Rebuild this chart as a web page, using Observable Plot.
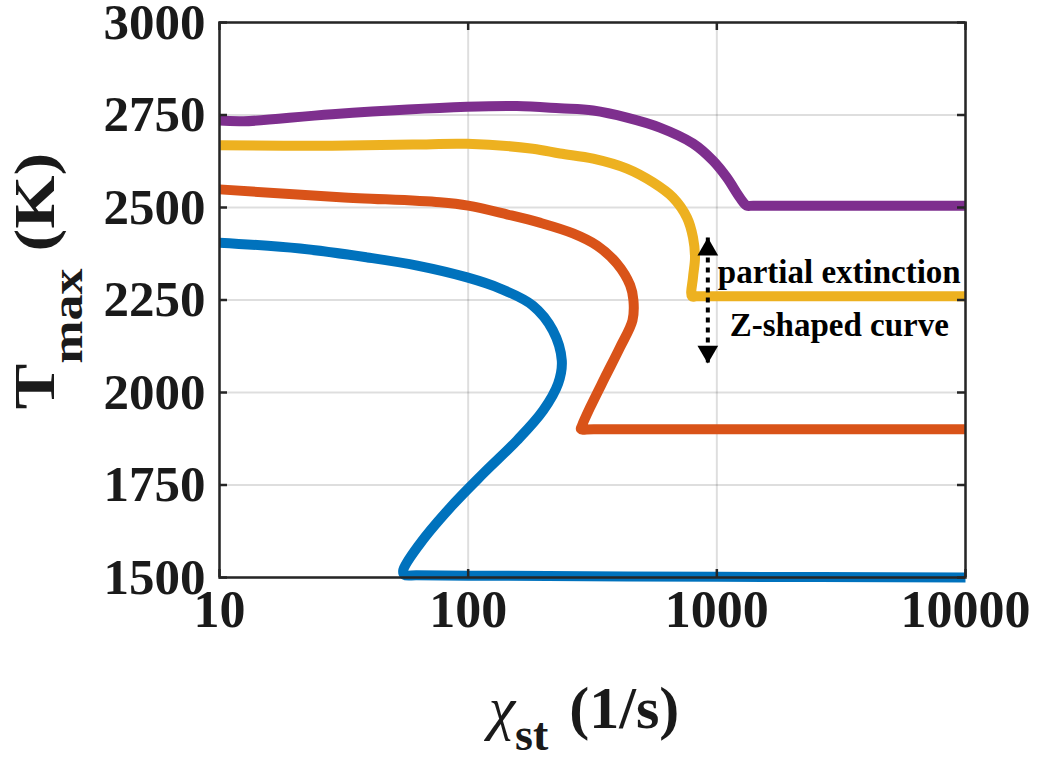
<!DOCTYPE html>
<html>
<head>
<meta charset="utf-8">
<script src="https://cdn.jsdelivr.net/npm/d3@7"></script>
<script src="https://cdn.jsdelivr.net/npm/@observablehq/plot@0.6"></script>
<style>
  html, body { margin: 0; padding: 0; background: #fff; }
</style>
</head>
<body>
<div id="chart"></div>
<script>
// ---- axis ticks ----
const xTicks = [10, 100, 1000, 10000];
const yTicks = [1500, 1750, 2000, 2250, 2500, 2750, 3000];

// ---- series (chi_st in 1/s, Tmax in K), ordered along each curve ----
const seriesNames = ["case 1", "case 2", "case 3", "case 4"];
const seriesColors = ["#0072BD", "#D95319", "#EDB120", "#7E2F8E"];

const blueChi = [10, 21.1, 39.3, 62.4, 99, 134.5, 182, 219, 238, 230, 200, 157, 115, 84.7, 64.1, 54.8, 55.5, 62, 100, 1000, 10000];
const blueT   = [2405, 2389, 2365, 2343, 2311, 2281, 2235, 2168, 2086, 2024, 1951, 1870, 1781, 1689, 1592, 1519, 1507, 1506, 1505, 1502, 1500];

const redChi = [10, 30.6, 77, 100, 144, 194, 264, 330, 396, 448, 462, 458, 408, 355, 309, 287, 284, 320, 10000];
const redT   = [2549, 2528, 2514, 2505, 2481, 2459, 2430, 2397, 2349, 2290, 2249, 2195, 2122, 2041, 1959, 1911, 1901, 1901, 1901];

const yellowChi = [10, 28.4, 60, 99, 182, 234, 318, 435, 553, 666, 758, 802, 817, 802, 794, 830, 10000];
const yellowT   = [2668, 2667, 2670, 2672, 2659, 2646, 2632, 2605, 2568, 2527, 2473, 2419, 2365, 2311, 2260, 2260, 2260];

const purpleChi = [10, 12.5, 28.4, 99, 157, 234, 318, 435, 590, 802, 964, 1097, 1237, 1320, 1400, 10000];
const purpleT   = [2735, 2733, 2752, 2772, 2774, 2768, 2762, 2743, 2716, 2673, 2627, 2581, 2527, 2505, 2505, 2505];

// ---- annotation ----
const annText = ["partial extinction", "Z-shaped curve"];
const annChi = [1009, 1127];
const annT = [2324, 2181];
const arrowChi = 920;
const arrowTop = 2419;
const arrowBottom = 2078;

// build table
const chiArrays = [blueChi, redChi, yellowChi, purpleChi];
const tArrays = [blueT, redT, yellowT, purpleT];
const rows = [];
seriesNames.forEach((name, i) => {
  chiArrays[i].forEach((c, j) => rows.push({series: name, chi: c, T: tArrays[i][j]}));
});

const ink = "#262626";
const W = 1039, H = 757;
const mL = 219, mR = 74, mT = 22, mB = 180;
const plotW = W - mL - mR, plotH = H - mT - mB;
const tickLen = 8;
const serif = "'Liberation Serif', 'Times New Roman', serif";

const chart = Plot.plot({
  width: W,
  height: H,
  marginLeft: mL,
  marginRight: mR,
  marginTop: mT,
  marginBottom: mB,
  style: {fontFamily: serif, background: "#fff", color: "#1a1a1a", overflow: "visible"},
  x: {type: "log", domain: [10, 10000]},
  y: {domain: [1500, 3000]},
  color: {domain: seriesNames, range: seriesColors},
  marks: [
    Plot.gridX(xTicks, {stroke: "#000", strokeOpacity: 0.13, strokeWidth: 2}),
    Plot.gridY(yTicks, {stroke: "#000", strokeOpacity: 0.13, strokeWidth: 2}),
    Plot.line(rows, {x: "chi", y: "T", z: "series", stroke: "series", strokeWidth: 10,
      curve: "catmull-rom", strokeLinejoin: "round", strokeLinecap: "butt"}),
    Plot.frame({stroke: ink, strokeWidth: 2.5}),
    Plot.ruleX(xTicks, {x: d => d, insetTop: plotH - tickLen, stroke: ink, strokeWidth: 2.5}),
    Plot.ruleX(xTicks, {x: d => d, insetBottom: plotH - tickLen, stroke: ink, strokeWidth: 2.5}),
    Plot.ruleY(yTicks, {y: d => d, insetRight: plotW - tickLen, stroke: ink, strokeWidth: 2.5}),
    Plot.ruleY(yTicks, {y: d => d, insetLeft: plotW - tickLen, stroke: ink, strokeWidth: 2.5}),
    Plot.axisX({ticks: xTicks, tickSize: 0, tickPadding: 13, fontSize: 52, fontWeight: "bold",
      tickFormat: d => String(d), label: null, ariaLabel: "x-axis tick label"}),
    Plot.axisY({ticks: yTicks, tickSize: 0, tickPadding: 14, fontSize: 51, fontWeight: "bold",
      tickFormat: d => String(d), label: null, ariaLabel: "y-axis tick label"}),
    // annotation arrow
    Plot.link([0], {x1: () => arrowChi, x2: () => arrowChi, y1: () => arrowTop, y2: () => arrowBottom,
      stroke: "#000", strokeWidth: 4, strokeDasharray: "5,5"}),
    Plot.dot([arrowTop], {x: () => arrowChi, y: d => d, symbol: "triangle", r: 7.7, fill: "#000", stroke: "none", dy: 12}),
    Plot.dot([arrowBottom], {x: () => arrowChi, y: d => d, symbol: "triangle", r: 7.7, fill: "#000", stroke: "none", dy: -12, rotate: 180}),
    Plot.text(annText, {x: annChi, y: annT, text: d => d, textAnchor: "start", fontSize: 33,
      fontWeight: "bold", fill: "#000"})
  ]
});

const svg = d3.select(chart);
// slightly taller tick glyphs, like the reference
svg.selectAll('g[aria-label="x-axis tick label"] text, g[aria-label="y-axis tick label"] text')
  .attr("transform", function() { return (this.getAttribute("transform") || "") + " scale(1,1.12)"; });

// axis titles with subscripts
const yTitle = svg.append("text")
  .attr("transform", "translate(54,281) rotate(-90) scale(1.18,1)")
  .attr("text-anchor", "middle")
  .attr("fill", "#1a1a1a")
  .attr("font-family", serif)
  .attr("font-weight", "bold");
yTitle.append("tspan").attr("font-size", 58).text("T");
yTitle.append("tspan").attr("font-size", 44).attr("dy", 28).text("max");
yTitle.append("tspan").attr("font-size", 58).attr("dy", -28).text(" (K)");

const xTitle = svg.append("text")
  .attr("transform", "translate(584,728)")
  .attr("text-anchor", "middle")
  .attr("fill", "#1a1a1a")
  .attr("font-family", serif)
  .attr("font-weight", "bold");
xTitle.append("tspan").attr("font-size", 60).attr("font-style", "italic").attr("font-weight", "normal").text("χ");
xTitle.append("tspan").attr("font-size", 46).attr("dy", 22).text("st");
xTitle.append("tspan").attr("font-size", 60).attr("dy", -22).attr("dx", 6).text(" (1/s)");

document.getElementById("chart").appendChild(chart);
</script>
</body>
</html>
